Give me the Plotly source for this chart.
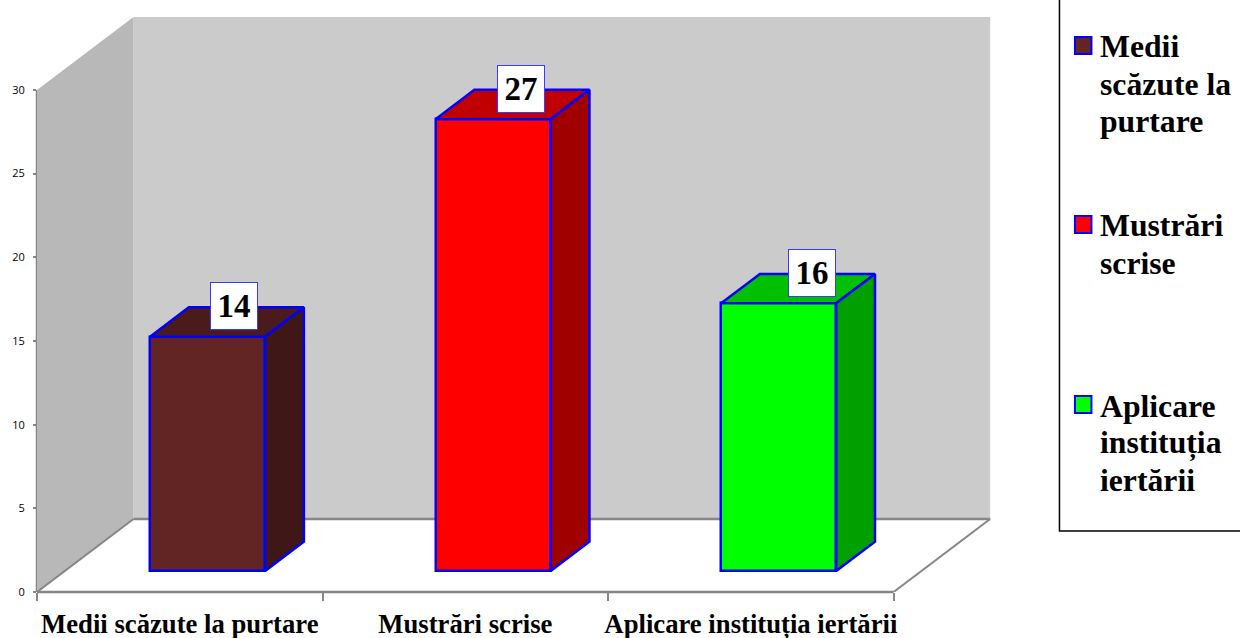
import plotly.graph_objects as go

# ---- data ----
categories = ["Medii scăzute la purtare", "Mustrări scrise", "Aplicare instituția iertării"]
values = [14, 27, 16]
y_ticks = [0, 5, 10, 15, 20, 25, 30]
key_medii = ["Medii", "scăzute la", "purtare"]
key_mustrari = ["Mustrări", "scrise"]
key_aplicare = ["Aplicare", "instituția", "iertării"]

# ---- style ----
front_colors = ["#632523", "#ff0000", "#00ff00"]
top_colors = ["#4a1b1a", "#c00000", "#00c000"]
side_colors = ["#3f1716", "#a00000", "#00a000"]
edge = "#0000ff"
grey = "#868686"
serif = "Liberation Serif"

W, H = 1240, 638
L, R, T, B = 36.5, 249, 16, 46      # plot area margins in px
Y_MAX = 34.42
X_MIN, X_MAX = -0.5, 2.841
WALL_DX, WALL_DY = 0.338, 4.36       # oblique depth of the box in axis units
BAR_NEAR, BAR_FAR = 0.288, 0.69      # bar depth as a share of the box depth
BAR_W = 0.403
LABEL_DX = [0.191, 0.196, 0.214]     # value label offset from category centre


def proj(x, y, depth):
    return x + depth * WALL_DX, y + depth * WALL_DY


def path(points):
    return "M " + " L ".join(f"{x},{y}" for x, y in points) + " Z"


def px_x(p):
    return (p - L) / (W - L - R)


def px_y(p):
    return 1 - (p - T) / (H - T - B)


fig = go.Figure()

xs = list(range(len(categories)))

# box walls and floor edges sit below the bars
x0, x1 = -0.5, 2.5
shapes = [
    dict(type="path", path=path([proj(x0, 0, 1), proj(x1, 0, 1), proj(x1, 30, 1), proj(x0, 30, 1)]),
         fillcolor="#cbcbcb", line_width=0, xref="x", yref="y", layer="below"),
    dict(type="path", path=path([proj(x0, 0, 0), proj(x0, 0, 1), proj(x0, 30, 1), proj(x0, 30, 0)]),
         fillcolor="#b8b8b8", line_width=0, xref="x", yref="y", layer="below"),
]
for a, b, w in [
    ((x0, 0, 0), (x0, 0, 1), 2),
    ((x1, 0, 0), (x1, 0, 1), 2),
    ((x0, 0, 1), (x1, 0, 1), 2.5),
]:
    pa, pb = proj(*a), proj(*b)
    shapes.append(dict(type="line", x0=pa[0], y0=pa[1], x1=pb[0], y1=pb[1],
                       line=dict(color=grey, width=w), xref="x", yref="y", layer="below"))

# axis lines run only along the front of the box; paper refs keep them unclipped
x_frac = (x1 - X_MIN) / (X_MAX - X_MIN)
y_frac = y_ticks[-1] / Y_MAX
shapes.append(dict(type="line", xref="paper", yref="paper", x0=0, x1=x_frac, y0=0, y1=0,
                   line=dict(color=grey, width=2.5), layer="below"))
shapes.append(dict(type="line", xref="paper", yref="paper", x0=0, x1=0, y0=0, y1=y_frac,
                   line=dict(color=grey, width=2.5), layer="below"))

# bar fronts
fig.add_trace(go.Bar(
    x=[proj(i, 0, BAR_NEAR)[0] for i in xs],
    y=values,
    base=[proj(i, 0, BAR_NEAR)[1] for i in xs],
    width=BAR_W,
    marker=dict(color=front_colors, line=dict(color=edge, width=2.5)),
    hoverinfo="skip",
))

# bar tops and sides
for i, v in zip(xs, values):
    l, r = i - BAR_W / 2, i + BAR_W / 2
    top = [proj(l, v, BAR_NEAR), proj(r, v, BAR_NEAR), proj(r, v, BAR_FAR), proj(l, v, BAR_FAR), proj(l, v, BAR_NEAR)]
    side = [proj(r, 0, BAR_NEAR), proj(r, 0, BAR_FAR), proj(r, v, BAR_FAR), proj(r, v, BAR_NEAR), proj(r, 0, BAR_NEAR)]
    for poly, col in ((top, top_colors[i]), (side, side_colors[i])):
        fig.add_trace(go.Scatter(
            x=[p[0] for p in poly], y=[p[1] for p in poly],
            mode="lines", fill="toself", fillcolor=col,
            line=dict(color=edge, width=2.5), hoverinfo="skip",
        ))

# value labels
annotations = []
for i, v in zip(xs, values):
    annotations.append(dict(
        x=i + LABEL_DX[i], y=proj(i, v, BAR_FAR)[1], xref="x", yref="y", yshift=1,
        text=f"<b>{v}</b>", showarrow=False, width=46, height=46,
        font=dict(family=serif, size=33, color="black"),
        bgcolor="white", bordercolor="#3a3aff", borderwidth=1, borderpad=0,
        align="center", valign="middle",
    ))

# side key
shapes.append(dict(type="rect", xref="paper", yref="paper", x0=px_x(1059.5), x1=px_x(1300),
                   y0=px_y(531), y1=px_y(-10), fillcolor="white", line=dict(color="black", width=1.5)))
key_baselines = [56, 235, 415]
LINE_STEP = 37.3
for lines, color, base in zip([key_medii, key_mustrari, key_aplicare], front_colors, key_baselines):
    shapes.append(dict(type="rect", xref="paper", yref="paper", x0=px_x(1075), x1=px_x(1091.5),
                       y0=px_y(base - 19), y1=px_y(base - 2), fillcolor=color, line=dict(color=edge, width=2)))
    for n, line in enumerate(lines):
        annotations.append(dict(
            xref="paper", yref="paper", x=px_x(1098), y=px_y(base + n * LINE_STEP - 9),
            xanchor="left", yanchor="middle",
            text=f"<b>{line}</b>", showarrow=False, align="left",
            font=dict(family=serif, size=31.7, color="black"),
        ))

fig.update_layout(
    width=W, height=H,
    margin=dict(l=L, r=R, t=T, b=B, pad=0, autoexpand=False),
    paper_bgcolor="white", plot_bgcolor="white",
    showlegend=False, bargap=0, shapes=shapes, annotations=annotations,
    xaxis=dict(
        range=[X_MIN, X_MAX], tickmode="array", tickvals=xs, ticktext=categories,
        ticks="", showgrid=False, zeroline=False, showline=False,
        tickfont=dict(family=serif, size=26.7, color="black", weight=700),
        ticklabelstandoff=13,
        minor=dict(ticks="outside", ticklen=8, tickwidth=2, tickcolor=grey, tick0=-0.5, dtick=1, showgrid=False),
    ),
    yaxis=dict(
        range=[0, Y_MAX], tickmode="array", tickvals=y_ticks,
        ticks="outside", ticklen=3, tickwidth=2, tickcolor=grey,
        ticklabelstandoff=6,
        showgrid=False, zeroline=False, showline=False,
        tickfont=dict(family="Open Sans", size=11, color="black"),
    ),
)

fig.write_html("out.html", config={"displayModeBar": False},
               post_script="document.body.style.margin='0';")
